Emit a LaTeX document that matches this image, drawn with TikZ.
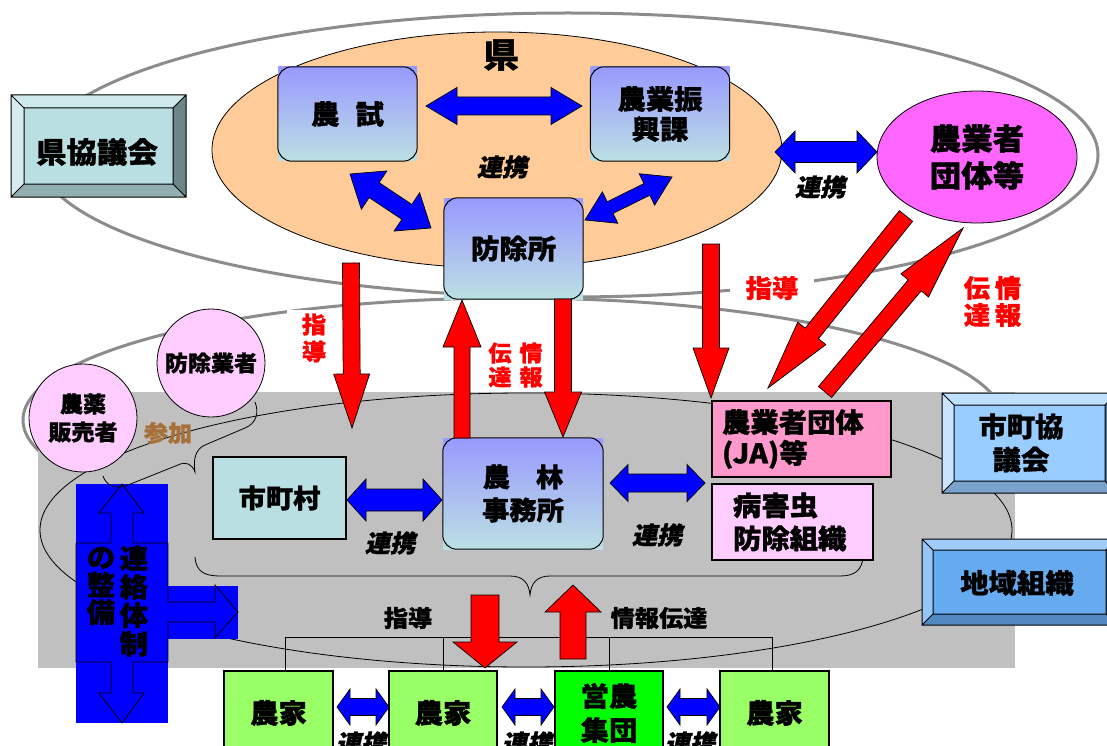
\documentclass[tikz,border=0pt]{standalone}
\usepackage{fontspec}
\setmainfont{Noto Sans CJK JP}[FakeStretch=1.05, BoldFeatures={FakeBold=1.2}]
\newfontfamily\jpsl{Noto Sans CJK JP}[FakeSlant=0.22, FakeStretch=1.05, BoldFeatures={FakeBold=1.2}]
\usetikzlibrary{calc,shapes.geometric}
\newcommand\fs[2]{\fontsize{#1}{#2}\selectfont}
\definecolor{kyoI}{RGB}{185,223,226}
\definecolor{kyoT}{RGB}{206,233,235}
\definecolor{kyoL}{RGB}{214,237,239}
\definecolor{kyoB}{RGB}{146,174,177}
\definecolor{kyoR}{RGB}{108,134,137}
\definecolor{shiI}{RGB}{153,204,255}
\definecolor{shiT}{RGB}{192,224,255}
\definecolor{shiL}{RGB}{200,228,255}
\definecolor{shiB}{RGB}{122,163,204}
\definecolor{shiR}{RGB}{92,122,153}
\definecolor{chiI}{RGB}{102,170,240}
\definecolor{chiT}{RGB}{160,204,250}
\definecolor{chiL}{RGB}{150,198,248}
\definecolor{chiB}{RGB}{82,136,192}
\definecolor{chiR}{RGB}{61,102,144}
\definecolor{orangeF}{RGB}{255,204,153}
\definecolor{magF}{RGB}{255,102,255}
\definecolor{pinkF}{RGB}{255,153,204}
\definecolor{lpinkF}{RGB}{255,204,255}
\definecolor{cyanF}{RGB}{185,223,226}
\definecolor{gtop}{RGB}{153,153,255}
\definecolor{gbot}{RGB}{187,224,227}
\definecolor{grayF}{RGB}{192,192,192}
\definecolor{grayL}{RGB}{140,140,140}
\definecolor{farmF}{RGB}{153,255,102}
\definecolor{einoF}{RGB}{0,255,0}
\definecolor{sankaC}{RGB}{166,112,56}
\definecolor{blueF}{RGB}{0,0,255}
\definecolor{redF}{RGB}{255,0,0}
% double arrow: A B shaft-half head-half head-length fill
\newcommand{\dblarr}[6]{%
  \coordinate (ha) at ($(#1)!#5!(#2)$);
  \coordinate (hb) at ($(#2)!#5!(#1)$);
  \draw[arrline, fill=#6] (#1) -- ($(ha)!#4!90:(#2)$) -- ($(ha)!#3!90:(#2)$)
    -- ($(hb)!#3!90:(#2)$) -- ($(hb)!#4!90:(#2)$) -- (#2)
    -- ($(hb)!#4!-90:(#2)$) -- ($(hb)!#3!-90:(#2)$)
    -- ($(ha)!#3!-90:(#2)$) -- ($(ha)!#4!-90:(#2)$) -- cycle;}
% single arrow: tail tip shaft-half head-half head-length fill
\newcommand{\sglarr}[6]{%
  \coordinate (hb) at ($(#2)!#5!(#1)$);
  \draw[arrline, fill=#6] ($(#1)!#3!90:(#2)$) -- ($(hb)!#3!90:(#2)$)
    -- ($(hb)!#4!90:(#2)$) -- (#2) -- ($(hb)!#4!-90:(#2)$)
    -- ($(hb)!#3!-90:(#2)$) -- ($(#1)!#3!-90:(#2)$) -- cycle;}
% bevel box: x1 y1 x2 y2 bevel colour-prefix
\newcommand{\bevelbox}[6]{%
  \fill[#6T] (#1,#2) -- (#3,#2) -- (#3-#5,#2+#5) -- (#1+#5,#2+#5) -- cycle;
  \fill[#6L] (#1,#2) -- (#1+#5,#2+#5) -- (#1+#5,#4-#5) -- (#1,#4) -- cycle;
  \fill[#6B] (#1,#4) -- (#1+#5,#4-#5) -- (#3-#5,#4-#5) -- (#3,#4) -- cycle;
  \fill[#6R] (#3,#2) -- (#3,#4) -- (#3-#5,#4-#5) -- (#3-#5,#2+#5) -- cycle;
  \fill[#6I] (#1+#5,#2+#5) rectangle (#3-#5,#4-#5);
  \draw[bevline] (#1,#2) rectangle (#3,#4) (#1+#5,#2+#5) rectangle (#3-#5,#4-#5)
    (#1,#2) -- (#1+#5,#2+#5) (#3,#2) -- (#3-#5,#2+#5)
    (#1,#4) -- (#1+#5,#4-#5) (#3,#4) -- (#3-#5,#4-#5);}
\begin{document}
\begin{tikzpicture}[x=1pt,y=-1pt,
  arrline/.style={draw=black, line width=0.7pt, line join=miter},
  bevline/.style={draw=black, line width=1pt},
  grayline/.style={draw=grayL, line width=3pt},
  thinline/.style={draw=black, line width=0.8pt},
  txt/.style={inner sep=0pt, align=center, font=\bfseries\fs{27}{30}},
  gradbox/.style={shape=rectangle, top color=gtop, bottom color=gbot, inner sep=0pt, align=center, font=\bfseries\fs{27}{30}},
  rborder/.style={draw=black, line width=1pt, rounded corners=14pt},
  renkei/.style={inner sep=0pt, font=\jpsl\bfseries\fs{24}{24}},
  redlbl/.style={inner sep=0pt, align=center, text=redF},
  circ/.style={circle, draw=black, line width=0.8pt, fill=lpinkF, minimum size=108pt, inner sep=0pt, align=center, font=\bfseries\fs{22}{28}},
  farm/.style={draw=black, line width=1.2pt, fill=farmF, minimum width=109pt, minimum height=84pt, inner sep=0pt, align=center, font=\bfseries\fs{27}{34}}
]
\useasboundingbox (0,0) rectangle (1107,746);
\clip (0,0) rectangle (1107,746);
\fill[white] (0,0) rectangle (1107,746);

% outer gray ellipses
\draw[grayline] (568,155) ellipse [x radius=530, y radius=142];
\draw[grayline] (513,420) ellipse [x radius=490, y radius=122];

% gray area
\fill[grayF] (38,392) rectangle (1015,668);

% prefecture ellipse
\draw[draw=black, line width=0.8pt, fill=orangeF] (497,150) ellipse [x radius=285, y radius=118];
\node[txt, font=\bfseries\fs{34}{34}] (ken) at (501,55) {県};

% thin inner ellipse and braces
\draw[thinline] (526,530) ellipse [x radius=486, y radius=137];
\draw[thinline] (195,557) .. controls (196,572) and (205,576) .. (220,576) -- (510,576)
  .. controls (524,576) and (529,584) .. (530,595)
  .. controls (531,584) and (536,576) .. (550,576) -- (840,576)
  .. controls (855,576) and (862,570) .. (863,557);

% 連絡体制の整備 shape
\fill[blueF] (76,484) rectangle (168,723);
\fill[blueF] (168,586) rectangle (238,639);
\draw[thinline] (122,484) -- (144,513) -- (133,513) -- (133,543) -- (168,543) -- (168,602)
  -- (215,602) -- (215,585) -- (238,612) -- (215,638) -- (215,622) -- (168,622) -- (168,662)
  -- (133,662) -- (133,693) -- (144,693) -- (122,723) -- (99,693) -- (111,693) -- (111,662)
  -- (76,662) -- (76,543) -- (111,543) -- (111,513) -- (99,513) -- cycle;
\node[txt, font=\bfseries\fs{27}{28.5}] (renraku) at (134,601) {連\\絡\\体\\制};
\node[txt, font=\bfseries\fs{27}{27.5}] (seibi) at (101,586) {の\\整\\備};

% participation brace
\draw[thinline] (255,402) .. controls (259,412) and (257,423) .. (245,428) -- (205,445)
  .. controls (196,449) and (193,458) .. (195,472)
  .. controls (192,464) and (186,461) .. (178,465) -- (128,485)
  .. controls (117,490) and (106,486) .. (103,476);

% circles
\node[circ] (nouyaku) at (83,418) {農薬\\販売者};
\node[circ] (bojogyo) at (211,363) {防除業者};
\node[inner sep=0pt, text=sankaC, font=\bfseries\fs{23}{23}] (sanka) at (168,433) {参加};

% 県協議会
\bevelbox{11}{95}{186}{197}{13}{kyo}
\node[txt, font=\bfseries\fs{29}{29}] (kenkyo) at (97,152) {県協議会};

% 市町協議会, 地域組織
\bevelbox{942}{393}{1117}{493}{12}{shi}
\node[txt, font=\bfseries\fs{27}{33}] (shikyo) at (1021,443) {市町協\\議会};
\bevelbox{922}{539}{1117}{625}{11}{chi}
\node[txt, font=\bfseries\fs{27}{27}] (chiiki) at (1017,583) {地域組織};

% gradient boxes
\node[gradbox, minimum width=139pt, minimum height=94pt] (noshi) at (347.5,114) {農\hspace{0.6em}試};
\draw[rborder] (noshi.south west) rectangle (noshi.north east);
\node[gradbox, minimum width=139pt, minimum height=94pt] (shinko) at (660,114) {農業振\\興課};
\draw[rborder] (shinko.south west) rectangle (shinko.north east);
\node[gradbox, minimum width=139pt, minimum height=101pt] (bojosho) at (513.5,248.5) {防除所};
\draw[rborder] (bojosho.south west) rectangle (bojosho.north east);
\node[gradbox, minimum width=160pt, minimum height=111pt, font=\bfseries\fs{26}{33}] (nourin) at (523,493.5) {農\hspace{1em}林\\事務所};
\draw[rborder] (nourin.south west) rectangle (nourin.north east);

% farmer organisations ellipse
\node[ellipse, draw=black, line width=0.8pt, fill=magF, minimum width=200pt, minimum height=132pt, inner sep=0pt, align=center, font=\bfseries\fs{30}{37}] (dantai) at (977,157) {農業者\\団体等};

% municipality and right boxes
\node[draw=black, line width=2pt, fill=cyanF, minimum width=133pt, minimum height=82pt, txt, font=\bfseries\fs{26}{26}] (shicho) at (279.5,498) {市町村};
\node[draw=black, line width=2pt, fill=pinkF, minimum height=76pt, inner ysep=0pt, inner xsep=10pt, text width=159pt, align=left, font=\bfseries\fs{27}{31}] (ja) at (801.5,439) {農業者団体\\(JA)等};
\node[draw=black, line width=2pt, fill=lpinkF, minimum height=76pt, inner ysep=0pt, inner xsep=21pt, text width=119pt, align=left, font=\bfseries\fs{27}{33}] (byogai) at (792.5,522) {病害虫\\防除組織};

% farms
\node[farm] (nk1) at (278.5,713) {農家};
\node[farm, minimum width=108pt] (nk2) at (443,713) {農家};
\node[farm, minimum width=108pt, fill=einoF] (eino) at (609,713) {営農\\集団};
\node[farm] (nk3) at (774.5,713) {農家};
\coordinate (brL) at (285,637);
\coordinate (brR) at (772,637);
\draw[thinline] (brL) -- (brR);
\draw[thinline] (brL) -- (brL |- nk1.north);
\draw[thinline] (nk2.north) -- (nk2.north |- brL);
\draw[thinline] (eino.north) -- (eino.north |- brL);
\draw[thinline] (brR) -- (brR |- nk3.north);
\node[txt, font=\bfseries\fs{23}{23}] (shidoB) at (408,618) {指導};
\node[txt, font=\bfseries\fs{23}{23}] (denB) at (659,618) {情報伝達};

% blue double arrows
\coordinate (b1a) at (426,106); \coordinate (b1b) at (582,106);
\dblarr{b1a}{b1b}{9pt}{18.5pt}{31pt}{blueF}
\coordinate (b2a) at (350,174); \coordinate (b2b) at (431,228);
\dblarr{b2a}{b2b}{9pt}{23pt}{29pt}{blueF}
\coordinate (b3a) at (585,220); \coordinate (b3b) at (672,177);
\dblarr{b3a}{b3b}{6.5pt}{17.5pt}{28pt}{blueF}
\coordinate (b4a) at (775,152); \coordinate (b4b) at (877,152);
\dblarr{b4a}{b4b}{10.5pt}{21pt}{20pt}{blueF}
\coordinate (b5a) at (347,500); \coordinate (b5b) at (442,500);
\dblarr{b5a}{b5b}{11pt}{21pt}{19pt}{blueF}
\coordinate (b6a) at (610,483); \coordinate (b6b) at (705,483);
\dblarr{b6a}{b6b}{9pt}{18.5pt}{18pt}{blueF}
\coordinate (b7a) at (337,707); \coordinate (b7b) at (389,707);
\dblarr{b7a}{b7b}{8.5pt}{18pt}{13pt}{blueF}
\coordinate (b8a) at (502,707); \coordinate (b8b) at (554,707);
\dblarr{b8a}{b8b}{8.5pt}{18pt}{13pt}{blueF}
\coordinate (b9a) at (667,707); \coordinate (b9b) at (720,707);
\dblarr{b9a}{b9b}{8.5pt}{18pt}{13pt}{blueF}

% red arrows
\coordinate (r1a) at (351,263); \coordinate (r1b) at (352,428);
\sglarr{r1a}{r1b}{8.5pt}{18pt}{54pt}{redF}
\coordinate (r2a) at (462,438); \coordinate (r2b) at (462,300);
\sglarr{r2a}{r2b}{8pt}{19pt}{47pt}{redF}
\coordinate (r3a) at (563,299); \coordinate (r3b) at (563,437);
\sglarr{r3a}{r3b}{8.5pt}{18.5pt}{45pt}{redF}
\coordinate (r4a) at (711,244); \coordinate (r4b) at (711,398);
\sglarr{r4a}{r4b}{8.5pt}{18pt}{50pt}{redF}
\coordinate (r5a) at (906,216); \coordinate (r5b) at (768,388);
\sglarr{r5a}{r5b}{8.5pt}{18pt}{70pt}{redF}
\coordinate (r6a) at (825,392); \coordinate (r6b) at (963,228);
\sglarr{r6a}{r6b}{8.5pt}{18pt}{75pt}{redF}
\coordinate (r7a) at (485,595); \coordinate (r7b) at (485,668);
\sglarr{r7a}{r7b}{14pt}{32pt}{26pt}{redF}
\coordinate (r8a) at (573,659); \coordinate (r8b) at (573,585);
\sglarr{r8a}{r8b}{13pt}{28pt}{27pt}{redF}

% red labels
\node[redlbl, fill=white, minimum width=54pt, inner ysep=4pt, font=\bfseries\fs{23}{27}] (shido1) at (314,338) {指\\導};
\node[redlbl, fill=white, inner xsep=16pt, inner ysep=4pt, font=\bfseries\fs{25}{25}] (shido2) at (772,288) {指導};
\node[redlbl, font=\bfseries\fs{22}{24}] (den1) at (515.5,365) {伝\hspace{8pt}情\\達\hspace{8pt}報};
\node[redlbl, font=\bfseries\fs{25}{27}] (den2) at (992.5,301.5) {伝\hspace{5pt}情\\達\hspace{5pt}報};

% 連携 labels
\node[renkei] (rk1) at (502,167) {連携};
\node[renkei] (rk2) at (820,187) {連携};
\node[renkei] (rk3) at (390,543) {連携};
\node[renkei] (rk4) at (657,535) {連携};
\node[renkei] (rk5) at (361,743) {連携};
\node[renkei] (rk6) at (527,743) {連携};
\node[renkei] (rk7) at (690,743) {連携};
\end{tikzpicture}
\end{document}
